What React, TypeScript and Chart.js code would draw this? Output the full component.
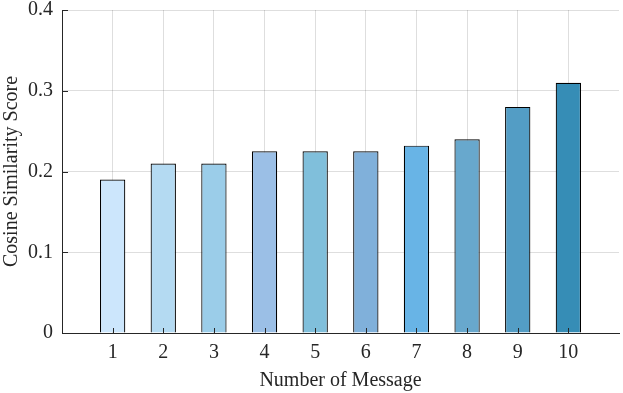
import React, { useEffect, useRef } from "react";
import { Chart, registerables } from "chart.js";

Chart.register(...registerables);

const categories = [1, 2, 3, 4, 5, 6, 7, 8, 9, 10];
const scores = [0.19, 0.21, 0.21, 0.225, 0.225, 0.225, 0.232, 0.24, 0.28, 0.31];
const barColors = [
  "#cce6fc",
  "#b4daf2",
  "#9bcde9",
  "#9bbfe6",
  "#80bfdb",
  "#80b0da",
  "#68b4e6",
  "#68a8cd",
  "#539dc5",
  "#368db6",
];
const yTicks = [0, 0.1, 0.2, 0.3, 0.4];
const xTitle = "Number of Message";
const yTitle = "Cosine Similarity Score";

const AXIS = "#262626";
const FONT = { family: "'Liberation Serif', 'Times New Roman', serif", size: 20 };

const inwardTicks = {
  id: "inwardTicks",
  afterDatasetsDraw(chart: any) {
    const { ctx, chartArea, scales } = chart;
    const x = scales.x;
    const y = scales.y;
    ctx.save();
    ctx.strokeStyle = AXIS;
    ctx.lineWidth = 1;
    ctx.beginPath();
    categories.forEach((c) => {
      const px = Math.round(x.getPixelForValue(c)) + 0.5;
      ctx.moveTo(px, chartArea.bottom);
      ctx.lineTo(px, chartArea.bottom - 5);
    });
    yTicks.forEach((t) => {
      const py = Math.round(y.getPixelForValue(t)) + 0.5;
      ctx.moveTo(chartArea.left, py);
      ctx.lineTo(chartArea.left + 6, py);
    });
    ctx.stroke();
    ctx.restore();
  },
};

export default function App() {
  const ref = useRef<HTMLCanvasElement | null>(null);
  useEffect(() => {
    if (!ref.current) return;
    const chart = new Chart(ref.current, {
      type: "bar",
      data: {
        datasets: [
          {
            data: categories.map((c, i) => ({ x: c, y: scores[i] })),
            backgroundColor: barColors,
            borderColor: "#000000",
            borderWidth: 1.2,
            barPercentage: 0.5,
            categoryPercentage: 1,
          },
        ],
      },
      options: {
        animation: false,
        responsive: false,
        maintainAspectRatio: false,
        layout: { padding: { top: 10, right: 4, left: 0, bottom: 0 } },
        plugins: { legend: { display: false }, tooltip: { enabled: false } },
        scales: {
          x: {
            type: "linear",
            offset: false,
            min: 0,
            max: 11,
            afterFit: (s: any) => {
              s.height = 60;
              s.paddingLeft = 0;
              s.paddingRight = 0;
            },
            afterBuildTicks: (s: any) => {
              s.ticks = categories.map((c) => ({ value: c }));
            },
            ticks: {
              font: FONT,
              color: AXIS,
              padding: 8,
              maxRotation: 0,
              autoSkip: false,
              callback: (v: any) => String(v),
            },
            grid: { offset: false, color: "rgba(0,0,0,0.13)", lineWidth: 1, drawTicks: false },
            border: { display: true, color: AXIS, width: 1 },
            title: { display: true, text: xTitle, font: FONT, color: AXIS, padding: { top: 2, bottom: 0 } },
          },
          y: {
            min: 0,
            max: 0.4,
            afterFit: (s: any) => {
              s.width = 62;
              s.paddingTop = 0;
              s.paddingBottom = 0;
            },
            afterBuildTicks: (s: any) => {
              s.ticks = yTicks.map((t) => ({ value: t }));
            },
            ticks: {
              font: FONT,
              color: AXIS,
              padding: 9,
              callback: (v: any) => String(v),
            },
            grid: { color: "rgba(0,0,0,0.13)", lineWidth: 1, drawTicks: false },
            border: { display: true, color: AXIS, width: 1 },
            title: { display: true, text: yTitle, font: FONT, color: AXIS, padding: { top: 0, bottom: 0 } },
          },
        },
      },
      plugins: [inwardTicks],
    });
    return () => chart.destroy();
  }, []);
  return (
    <div style={{ position: "fixed", left: 0, top: 0, width: 623, height: 393, background: "#fff" }}>
      <canvas ref={ref} width={623} height={393} style={{ display: "block" }} />
    </div>
  );
}
